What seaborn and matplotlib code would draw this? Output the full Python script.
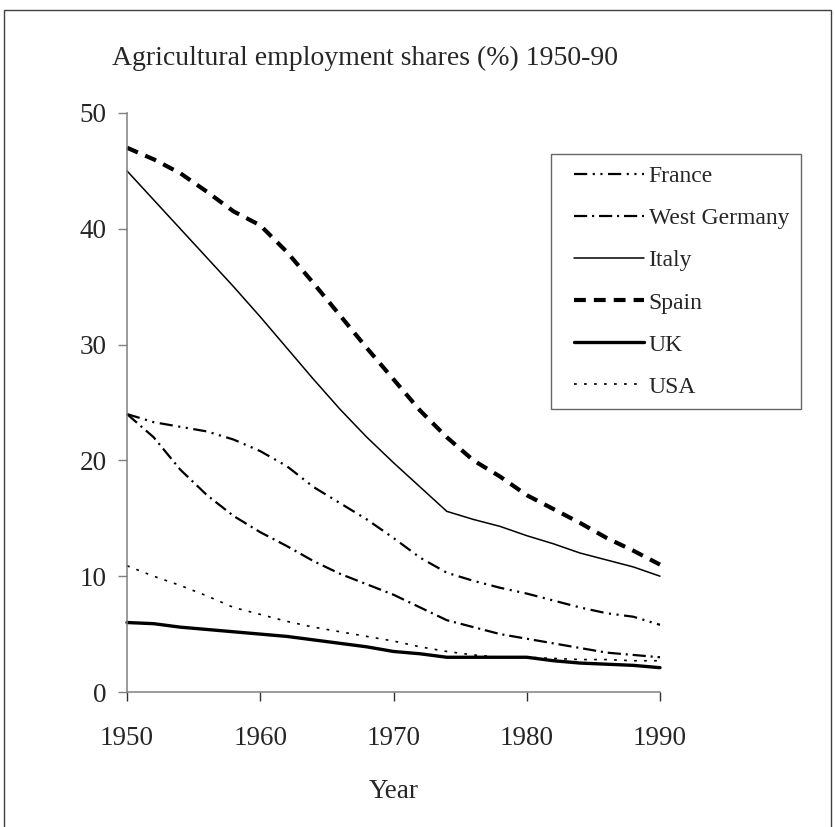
import numpy as np
import pandas as pd
import matplotlib
matplotlib.use("Agg")
import matplotlib.pyplot as plt
import seaborn as sns
from matplotlib.lines import Line2D
from matplotlib.legend_handler import HandlerLine2D

years = [1950, 1952, 1954, 1956, 1958, 1960, 1962, 1964, 1966, 1968, 1970,
         1972, 1974, 1976, 1978, 1980, 1982, 1984, 1986, 1988, 1990]

france = [24.0, 23.3, 22.9, 22.5, 21.8, 20.8, 19.5, 17.7, 16.3, 14.9, 13.3,
          11.6, 10.3, 9.6, 9.0, 8.5, 7.9, 7.3, 6.8, 6.5, 5.8]
west_germany = [24.0, 22.0, 19.2, 17.0, 15.2, 13.8, 12.6, 11.3, 10.2, 9.3, 8.4,
                7.3, 6.2, 5.6, 5.0, 4.6, 4.2, 3.8, 3.4, 3.2, 3.0]
italy = [45.0, 42.5, 40.0, 37.5, 35.0, 32.4, 29.7, 27.0, 24.4, 22.0, 19.8,
         17.7, 15.6, 14.9, 14.3, 13.5, 12.8, 12.0, 11.4, 10.8, 10.0]
spain = [47.0, 46.0, 44.8, 43.2, 41.5, 40.3, 38.0, 35.3, 32.5, 29.7, 27.0,
         24.3, 22.0, 20.0, 18.6, 17.0, 15.8, 14.6, 13.3, 12.2, 11.0]
uk = [6.0, 5.9, 5.6, 5.4, 5.2, 5.0, 4.8, 4.5, 4.2, 3.9, 3.5,
      3.3, 3.0, 3.0, 3.0, 3.0, 2.7, 2.5, 2.4, 2.3, 2.1]
usa = [10.9, 10.0, 9.2, 8.3, 7.3, 6.7, 6.1, 5.6, 5.2, 4.8, 4.4,
       3.9, 3.5, 3.2, 3.0, 3.0, 2.9, 2.8, 2.8, 2.7, 2.7]

countries = ["France", "West Germany", "Italy", "Spain", "UK", "USA"]
series = [france, west_germany, italy, spain, uk, usa]

# line looks (dash lengths in points)
styles = {
    "France": dict(lw=1.6, ls=(0, (9.5, 4, 1.5, 4, 1.5, 4))),
    "West Germany": dict(lw=1.6, ls=(0, (9.5, 3.5, 1.5, 3.5))),
    "Italy": dict(lw=1.1, ls="-"),
    "Spain": dict(lw=3.0, ls=(0, (8.5, 5.8))),
    "UK": dict(lw=2.4, ls="-"),
    "USA": dict(lw=1.2, ls=(0, (2, 5.2))),
}

df = pd.DataFrame({"year": years * len(countries),
                   "share": np.concatenate(series),
                   "country": np.repeat(countries, len(years))})

sns.set_style("white")
plt.rcParams["font.family"] = ["Liberation Serif", "DejaVu Serif"]
plt.rcParams["lines.scale_dashes"] = False

fig = plt.figure(figsize=(8.35, 8.27), dpi=100)
ax = fig.add_axes([127 / 835, (827 - 692) / 827, (660 - 127) / 835, (692 - 113) / 827])

for c in countries:
    sub = df[df["country"] == c]
    sns.lineplot(data=sub, x="year", y="share", ax=ax, color="black",
                 linewidth=styles[c]["lw"], linestyle=styles[c]["ls"],
                 label=c, clip_on=False)

ax.set_xlim(1950, 1990)
ax.set_ylim(0, 50)
ax.set_xticks([1950, 1960, 1970, 1980, 1990])
ax.set_yticks([0, 10, 20, 30, 40, 50])

for s in ["top", "right"]:
    ax.spines[s].set_visible(False)
for s in ["left", "bottom"]:
    ax.spines[s].set_color("#808080")
    ax.spines[s].set_linewidth(1.1)

ax.tick_params(axis="y", direction="out", length=6.5, width=1, color="#808080",
               labelsize=19.5, pad=8, left=True)
ax.tick_params(axis="x", direction="out", length=6.5, width=1, color="#303030",
               labelsize=19.5, pad=18, bottom=True)

ax.set_xlabel("Year", fontsize=19.5, labelpad=20)
ax.set_ylabel("")

fig.text(365 / 835, 1 - 58 / 827, "Agricultural employment shares (%) 1950-90",
         ha="center", va="center", fontsize=20)

leg = ax.legend(loc="upper left", bbox_to_anchor=(551 / 835, 1 - 154 / 827),
                bbox_transform=fig.transFigure, borderaxespad=0, fontsize=17,
                frameon=True, fancybox=False, edgecolor="#404040",
                handlelength=3.43, handletextpad=0.2, labelspacing=0.87,
                borderpad=0.5, handler_map={Line2D: HandlerLine2D(xpad=0.47)})
leg.get_frame().set_linewidth(1.0)

# outer frame of the chart
fig.add_artist(plt.Rectangle((4 / 835, -0.1), (831 - 4) / 835, 1.1 - 10 / 827,
                             transform=fig.transFigure, fill=False,
                             edgecolor="#404040", lw=1.0))

fig.savefig("out.png", dpi=100)
